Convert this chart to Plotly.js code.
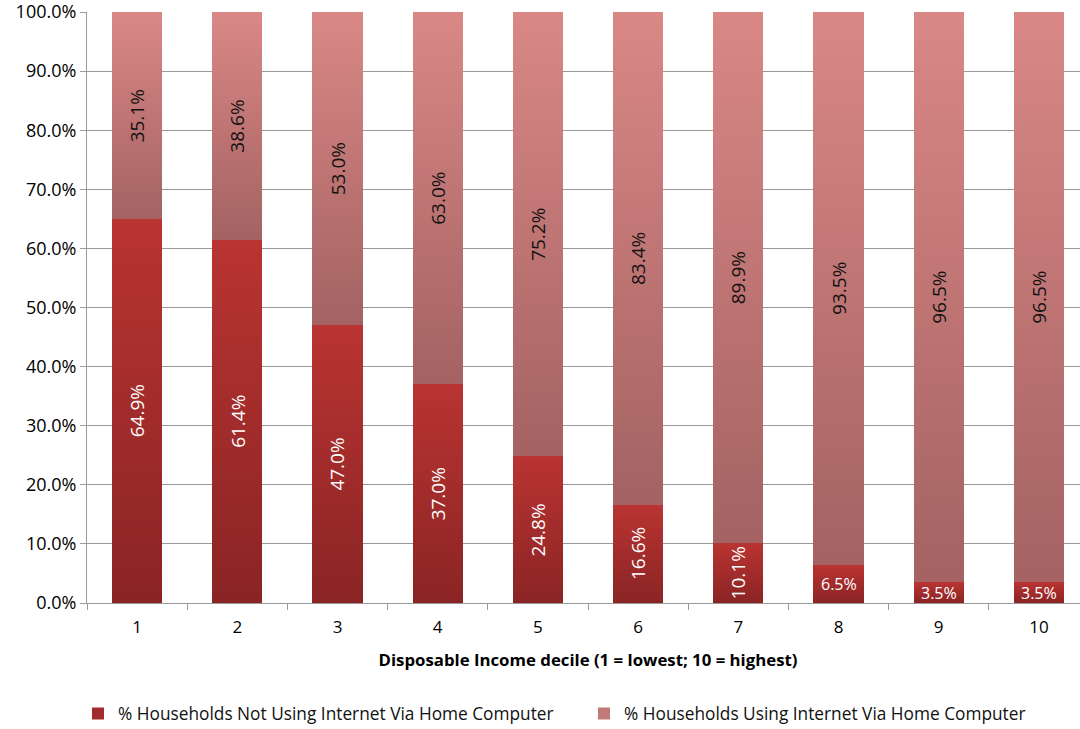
<!DOCTYPE html>
<html>
<head>
<meta charset="utf-8">
<script src="https://cdn.plot.ly/plotly-3.0.1.min.js"></script>
<style>
html,body{margin:0;padding:0;background:#fff;overflow:hidden;width:1080px;height:729px;}
#chart{width:1090px;height:729px;}
</style>
</head>
<body>
<div id="chart"></div>
<script>
// ---- data ----
var deciles = ['1','2','3','4','5','6','7','8','9','10'];
var notUsing = [64.9, 61.4, 47.0, 37.0, 24.8, 16.6, 10.1, 6.5, 3.5, 3.5];
var using = [35.1, 38.6, 53.0, 63.0, 75.2, 83.4, 89.9, 93.5, 96.5, 96.5];
var seriesNames = ['% Households Not Using Internet Via Home Computer', '% Households Using Internet Via Home Computer'];
var xTitle = 'Disposable Income decile (1 = lowest; 10 = highest)';

var FONT = '"Open Sans", Lato, sans-serif';
var lowColor = '#A22C2B';
var highColor = '#C27A78';

var traceLow = {
  type: 'bar', name: seriesNames[0], x: deciles, y: notUsing,
  marker: {color: lowColor, line: {width: 0}},
  legend: 'legend',
  hoverinfo: 'skip'
};
var traceHigh = {
  type: 'bar', name: seriesNames[1], x: deciles, y: using,
  marker: {color: highColor, line: {width: 0}},
  text: using.map(function(v){return v.toFixed(1) + '%';}),
  textposition: 'inside', insidetextanchor: 'middle', textangle: -90,
  constraintext: 'none',
  textfont: {family: FONT, size: 19, color: '#111'},
  legend: 'legend2',
  hoverinfo: 'skip'
};

// labels for the lower series, placed from the data values (x = category index)
var annotations = notUsing.map(function(v, i){
  var rotated = v >= 10;
  return {
    x: i, y: v / 2, xref: 'x', yref: 'y',
    text: v.toFixed(1) + '%', showarrow: false,
    textangle: rotated ? -90 : 0,
    font: {family: FONT, size: rotated ? 19 : 16, color: '#fff'}
  };
});

var gridC = '#9A9A9A';
var legendFont = {family: FONT, size: 17.3, color: '#111'};
var layout = {
  width: 1090, height: 729,
  margin: {l: 87, r: 1, t: 12, b: 126},
  paper_bgcolor: '#fff', plot_bgcolor: '#fff',
  barmode: 'stack', bargap: 0.5,
  font: {family: FONT, size: 16, color: '#000'},
  showlegend: true,
  legend: {orientation: 'h', xref: 'container', x: 78 / 1090, xanchor: 'left',
           yref: 'container', y: 0.021, yanchor: 'middle', font: legendFont},
  legend2: {orientation: 'h', xref: 'container', x: 584 / 1090, xanchor: 'left',
           yref: 'container', y: 0.021, yanchor: 'middle', font: legendFont},
  xaxis: {
    type: 'category', showline: true, linecolor: gridC, linewidth: 1,
    ticks: 'outside', tickson: 'boundaries', ticklen: 6, tickcolor: gridC,
    ticklabelstandoff: 9,
    tickfont: {family: FONT, size: 17, color: '#000'},
    title: {text: '<b>' + xTitle + '</b>', font: {family: FONT, size: 16.8, color: '#000'}, standoff: 16},
    automargin: false
  },
  yaxis: {
    range: [0, 100], tick0: 0, dtick: 10, tickformat: '.1f', ticksuffix: '%',
    showline: true, linecolor: gridC, linewidth: 1,
    showgrid: true, gridcolor: gridC, gridwidth: 1,
    ticks: 'outside', ticklen: 6, tickcolor: gridC,
    ticklabeloverflow: 'allow',
    tickfont: {family: FONT, size: 18, color: '#000'},
    zeroline: false, automargin: false
  },
  annotations: annotations
};

Plotly.newPlot('chart', [traceLow, traceHigh], layout, {staticPlot: true}).then(function(gd){
  // apply vertical gradients to bar segments (styling only)
  var svg = gd.querySelector('svg.main-svg');
  var ns = 'http://www.w3.org/2000/svg';
  var defs = svg.querySelector('defs') || svg.insertBefore(document.createElementNS(ns, 'defs'), svg.firstChild);
  function grad(id, top, bottom){
    var g = document.createElementNS(ns, 'linearGradient');
    g.setAttribute('id', id); g.setAttribute('x1', '0'); g.setAttribute('y1', '0');
    g.setAttribute('x2', '0'); g.setAttribute('y2', '1');
    [[0, top], [1, bottom]].forEach(function(s){
      var st = document.createElementNS(ns, 'stop');
      st.setAttribute('offset', s[0]); st.setAttribute('stop-color', s[1]);
      g.appendChild(st);
    });
    defs.appendChild(g);
  }
  grad('gLow', '#B93432', '#8A2424');
  grad('gHigh', '#D98886', '#A46262');
  var traces = gd.querySelectorAll('.barlayer .trace.bars');
  traces.forEach(function(t, k){
    t.querySelectorAll('.point path').forEach(function(p){
      p.style.fill = k === 0 ? 'url(#gLow)' : 'url(#gHigh)';
    });
  });
});
</script>
</body>
</html>
